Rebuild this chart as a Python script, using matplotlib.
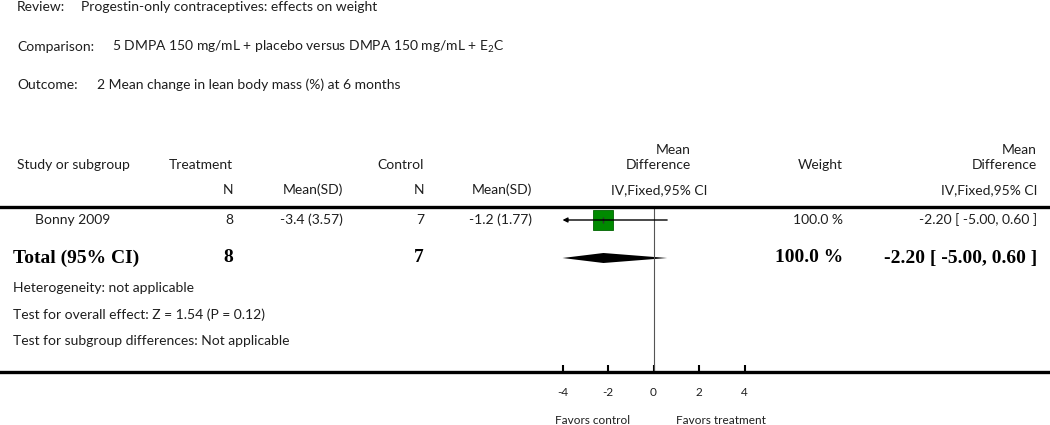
import matplotlib
matplotlib.use("Agg")
import matplotlib.pyplot as plt

plt.rcParams['font.family'] = ['Lato', 'DejaVu Sans']
plt.rcParams['mathtext.fontset'] = 'custom'
plt.rcParams['mathtext.rm'] = 'Lato'
plt.rcParams['mathtext.it'] = 'Lato'

W, H = 1050, 425

# data
review = "Progestin-only contraceptives: effects on weight"
comparison = "5 DMPA 150 mg/mL + placebo versus DMPA 150 mg/mL + E$_2$C"
outcome = "2 Mean change in lean body mass (%) at 6 months"

studies = ["Bonny 2009"]
treat_n = [8]
treat_mean_sd = ["-3.4 (3.57)"]
ctrl_n = [7]
ctrl_mean_sd = ["-1.2 (1.77)"]
md = [-2.20]
ci_low = [-5.00]
ci_high = [0.60]
weights = ["100.0 %"]

total_n_treat = 8
total_n_ctrl = 7
total_md = -2.20
total_low = -5.00
total_high = 0.60
total_weight = "100.0 %"

footnotes = ["Heterogeneity: not applicable",
             "Test for overall effect: Z = 1.54 (P = 0.12)",
             "Test for subgroup differences: Not applicable"]

ticks = [-4, -2, 0, 2, 4]
xmin_show, xmax_show = -4, 4

TXT = '#1e1e1e'
GREEN = '#008a00'

fig = plt.figure(figsize=(W / 100, H / 100), dpi=100)


def put(x, y, s, ha='left', size=10, **kw):
    kw.setdefault('color', TXT)
    fig.text(x / W, 1 - y / H, s, ha=ha, va='center', fontsize=size, **kw)


def bold(x, y, s, ha='right'):
    put(x, y, s, ha=ha, size=14, family='Liberation Serif', weight='bold',
        color='black')


# titles
put(17, 7, "Review:")
put(81, 7, review)
put(17, 47, "Comparison:")
put(112, 47, comparison)
put(17, 85, "Outcome:")
put(97, 85, outcome)

# headers
put(17, 165, "Study or subgroup")
put(233, 165, "Treatment", ha='right')
put(424, 165, "Control", ha='right')
put(691, 150, "Mean", ha='right')
put(691, 165, "Difference", ha='right')
put(843, 165, "Weight", ha='right')
put(1037, 150, "Mean", ha='right')
put(1037, 165, "Difference", ha='right')
put(233, 190, "N", ha='right')
put(343, 190, "Mean(SD)", ha='right')
put(424, 190, "N", ha='right')
put(532, 190, "Mean(SD)", ha='right')
put(707, 190, "IV,Fixed,95% CI", ha='right')
put(1037, 190, "IV,Fixed,95% CI", ha='right')

# forest axes: zero at 653.5 px, 22.75 px per unit, full figure width
zero_px, unit_px = 653.5, 22.75
top_px, bot_px, row_px, first_row_px = 207, 372, 38, 220
ax = fig.add_axes([0, 1 - bot_px / H, 1, (bot_px - top_px) / H])
ax.set_xlim(-zero_px / unit_px, (W - zero_px) / unit_px)
ax.set_ylim((bot_px - first_row_px) / row_px, -(first_row_px - top_px) / row_px)
ax.patch.set_visible(False)
for s in ['left', 'right']:
    ax.spines[s].set_visible(False)
ax.spines['top'].set_linewidth(2.4)
ax.spines['bottom'].set_linewidth(2.4)
ax.set_yticks([])
ax.set_xticks(ticks)
ax.set_xticklabels([str(t) for t in ticks], fontsize=8.5, color=TXT)
ax.tick_params(axis='x', direction='in', length=5, width=1.5, pad=11)
ax.axvline(0, color='#555555', lw=0.8)

for i, name in enumerate(studies):
    y_px = first_row_px + i * row_px
    put(35, y_px, name)
    put(233, y_px, str(treat_n[i]), ha='right')
    put(343, y_px, treat_mean_sd[i], ha='right')
    put(424, y_px, str(ctrl_n[i]), ha='right')
    put(532, y_px, ctrl_mean_sd[i], ha='right')
    put(843, y_px, weights[i], ha='right')
    put(1037, y_px, "%.2f [ %.2f, %.2f ]" % (md[i], ci_low[i], ci_high[i]), ha='right')

    lo = max(ci_low[i], xmin_show)
    hi = min(ci_high[i], xmax_show)
    if ci_low[i] < xmin_show:
        ax.annotate('', xy=(lo, i), xytext=(hi, i),
                    arrowprops=dict(arrowstyle='-|>', color='black', lw=1,
                                    mutation_scale=7, shrinkA=0, shrinkB=0))
    else:
        ax.plot([lo, hi], [i, i], color='black', lw=1)
    ax.plot(md[i], i, marker='s', markersize=14.4, color=GREEN,
            markeredgecolor='#006400', markeredgewidth=0.6)
    ax.plot(md[i], i, marker='|', markersize=4, color='#333333')

# total row
t = len(studies)
y_tot = first_row_px + t * row_px
bold(13, y_tot, "Total (95% CI)", ha='left')
bold(233, y_tot, str(total_n_treat))
bold(424, y_tot, str(total_n_ctrl))
bold(843, y_tot, total_weight)
bold(1037, y_tot, "%.2f [ %.2f, %.2f ]" % (total_md, total_low, total_high))
lo = max(total_low, xmin_show)
hi = min(total_high, xmax_show)
dh = 5 / row_px
ax.fill([lo, total_md, hi, total_md], [t, t - dh, t, t + dh], color='black', lw=0)

for k, line in enumerate(footnotes):
    put(13, 288 + k * 26.5, line)

put(593, 420, "Favors control", ha='center', size=8.5)
put(721, 420, "Favors treatment", ha='center', size=8.5)

fig.savefig("out.png", dpi=100)
